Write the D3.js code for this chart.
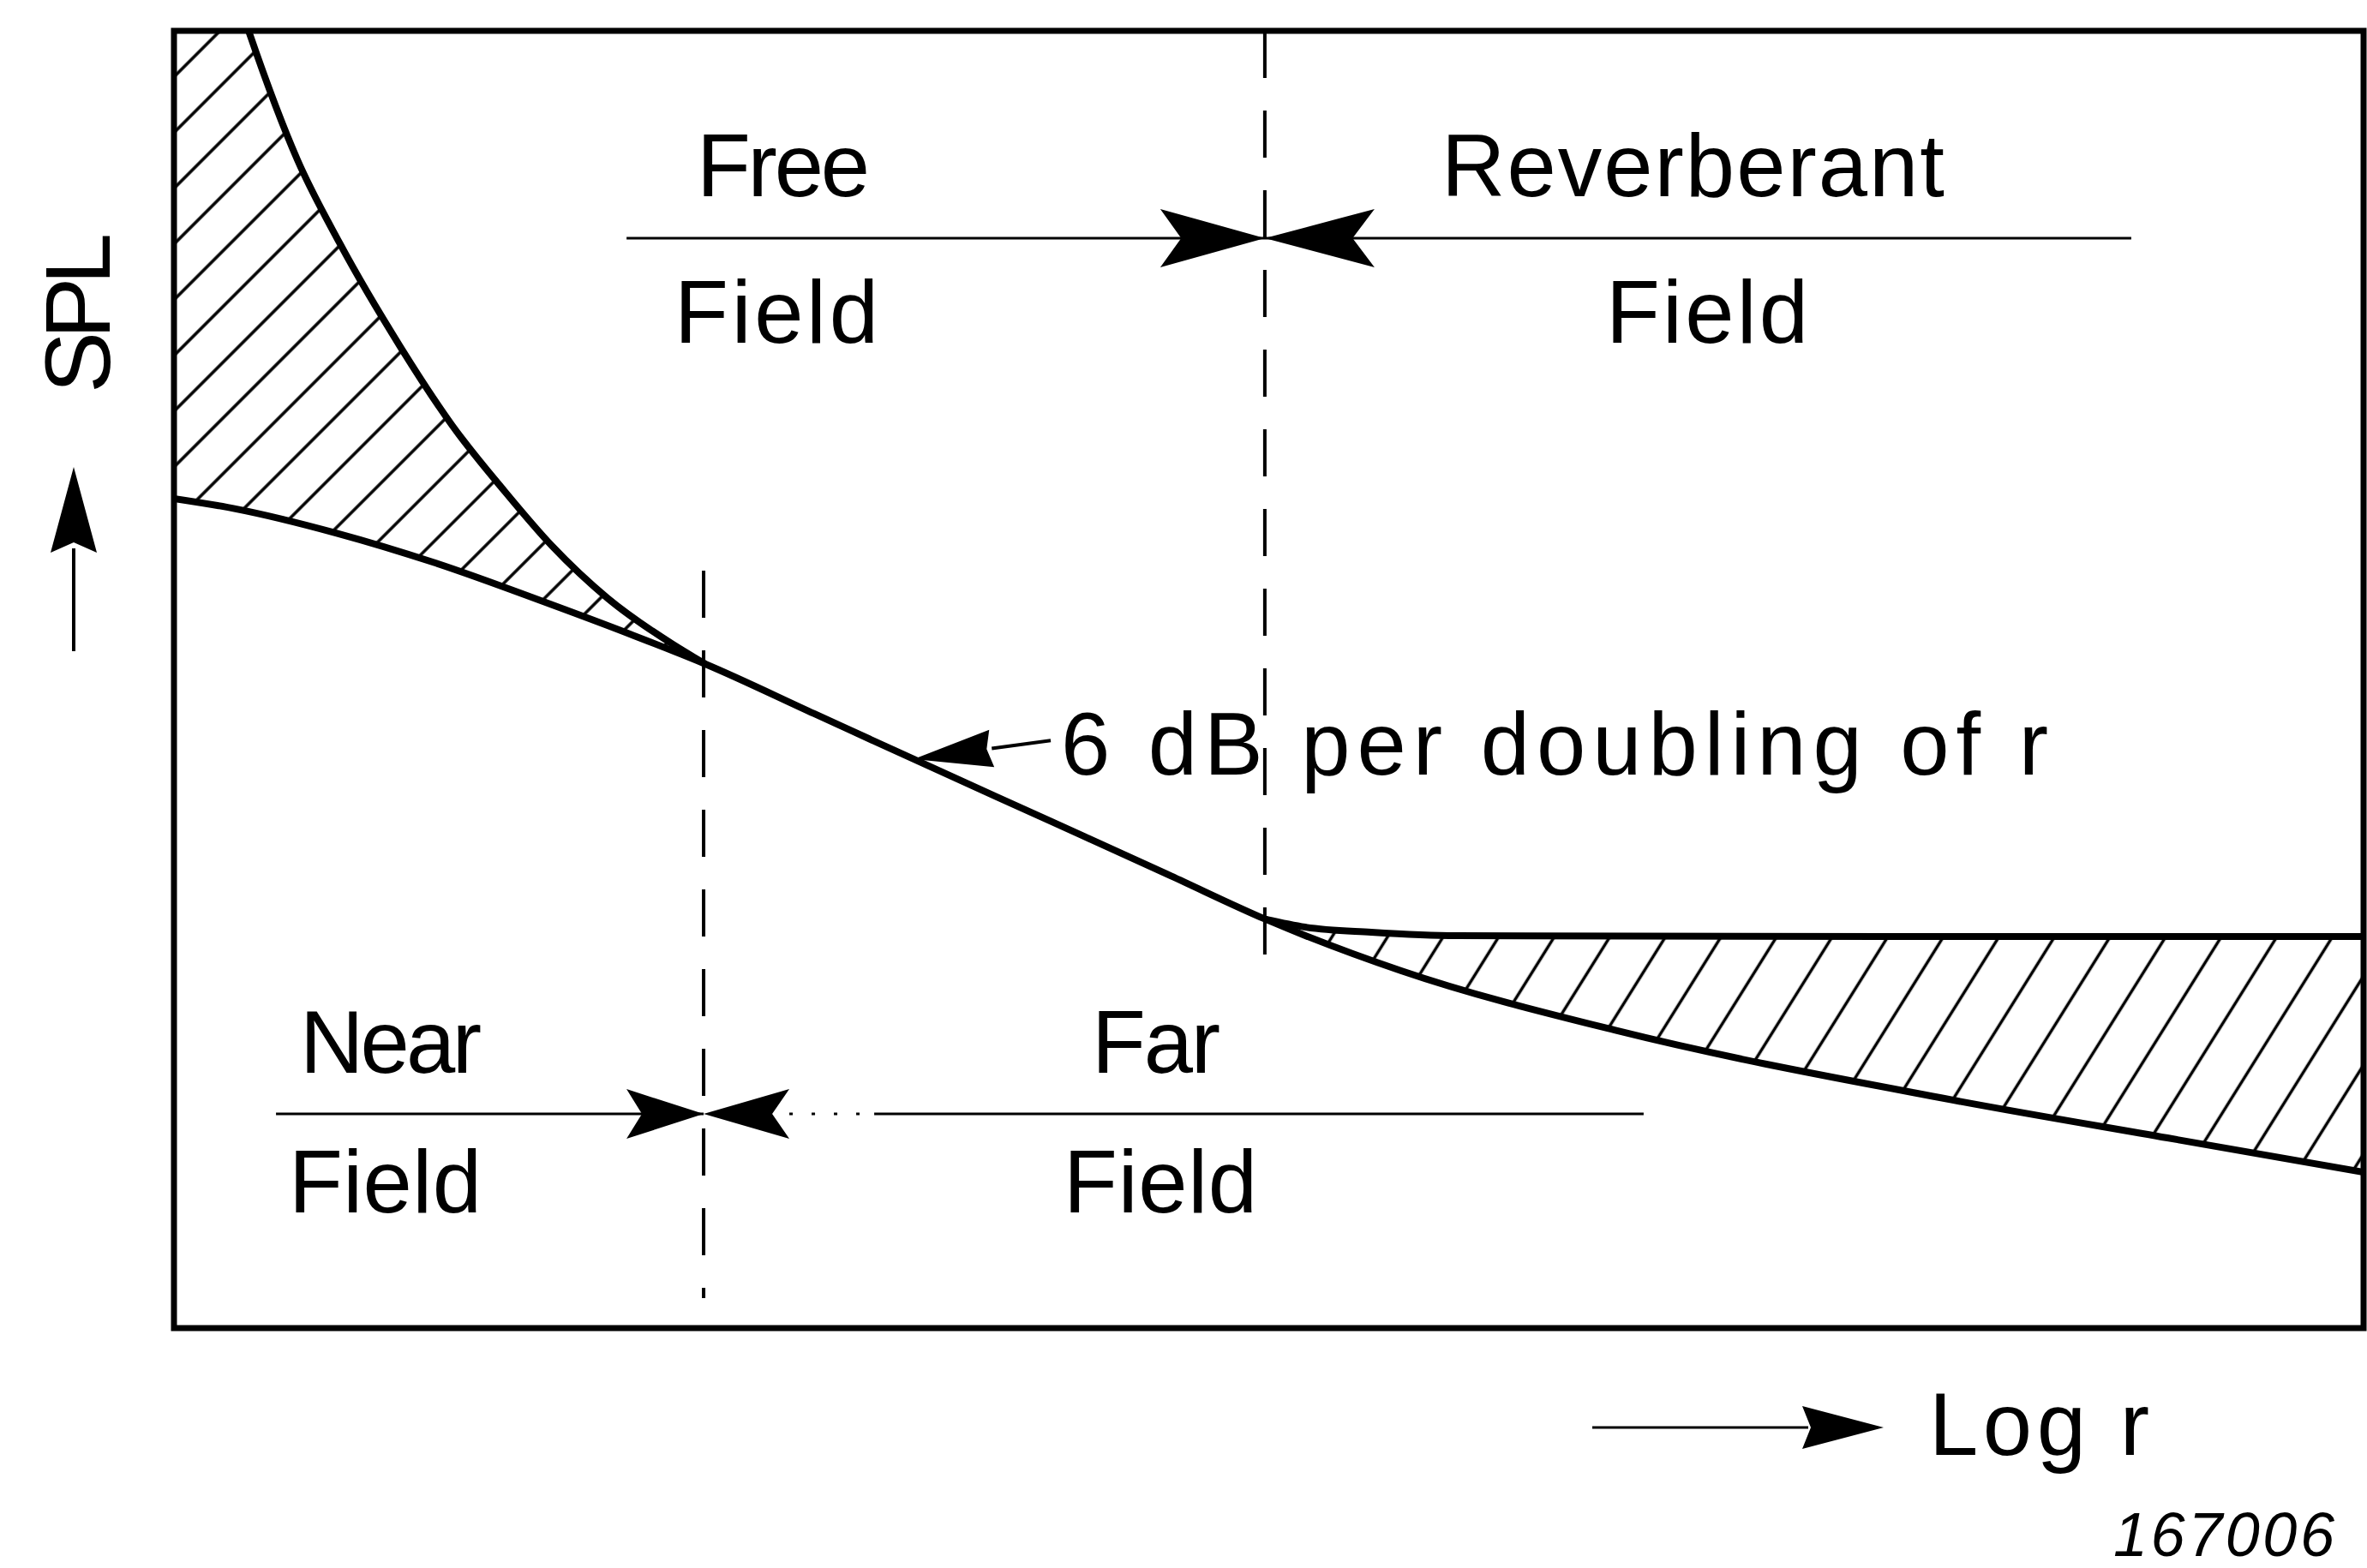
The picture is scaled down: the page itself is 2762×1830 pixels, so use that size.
<!DOCTYPE html>
<html>
<head>
<meta charset="utf-8">
<script src="https://cdn.jsdelivr.net/npm/d3@7"></script>
<style>
  html, body { margin: 0; padding: 0; background: #fff; }
  svg { display: block; }
  text { font-family: "Liberation Sans", Arial, sans-serif; fill: #000; }
</style>
</head>
<body>
<svg id="chart"></svg>
<script>
// values: x = log r (0..10 across the frame), y = SPL (0..100 up the frame)
const nearField = [
  {x: 0.325, y: 100.79}, {x: 0.346, y: 99.75}, {x: 0.565, y: 90.01}, {x: 0.755, y: 83.69},
  {x: 1.037, y: 75.56}, {x: 1.272, y: 69.55}, {x: 1.508, y: 64.55}, {x: 1.726, y: 60.30},
  {x: 1.980, y: 56.27}, {x: 2.278, y: 52.71}, {x: 2.427, y: 51.19}
];
const freeField = [
  {x: 0, y: 63.94}, {x: 0.286, y: 63.14}, {x: 0.740, y: 61.29}, {x: 1.194, y: 58.98},
  {x: 1.718, y: 55.81}, {x: 2.082, y: 53.50}, {x: 2.427, y: 51.19}, {x: 2.924, y: 47.36},
  {x: 3.378, y: 43.86}, {x: 4.008, y: 39.04}, {x: 4.552, y: 34.87}, {x: 4.986, y: 31.51},
  {x: 5.605, y: 27.54}, {x: 6.591, y: 22.92}, {x: 8.086, y: 17.70}, {x: 9.104, y: 14.66},
  {x: 10.0, y: 12.02}
];
const reverberant = [
  {x: 4.986, y: 31.51}, {x: 5.166, y: 30.91}, {x: 5.468, y: 30.52}, {x: 5.859, y: 30.25},
  {x: 7.8, y: 30.18}, {x: 10.0, y: 30.18}
];
const nearFarX = 2.427;      // where near field curve joins the 6 dB line
const freeRevX = 4.986;      // where reverberant field takes over

// dashed boundaries
const boundaries = [
  {x: 4.982, y1: 100, y2: 28.53},
  {x: 2.419, y1: 58.39, y2: 2.31}
];
// horizontal field arrows: line segments and bowtie meeting points
const fieldLines = [
  {y: 84.02, x1: 2.067, x2: 8.939},
  {y: 16.51, x1: 0.466, x2: 2.419},
  {y: 16.51, x1: 3.198, x2: 6.712}
];
const bowties = [
  {x: 4.982, y: 84.02, left: 122, right: 128, half: 34},
  {x: 2.419, y: 16.51, left: 90, right: 100, half: 29}
];
// "6 dB per doubling of r" pointer: tail and tip
const slopePointer = {x1: 4.004, y1: 45.3, x2: 3.378, y2: 43.86};

const labelTexts = ["Free", "Field", "Reverberant", "Field", "Near", "Field", "Far", "Field", "6 dB per doubling of r"];
const labelX1 = [2.387, 2.286, 5.789, 6.540, 0.575, 0.524, 4.192, 4.063, 4.051];
const labelX2 = [3.178, 3.217, 8.086, 7.464, 1.405, 1.405, 4.779, 4.947, 8.560];
const labelY  = [87.25, 75.96, 87.25, 75.96, 19.68, 8.92, 19.68, 8.92, 42.67];

const W = 2762, H = 1830;
const frame = {left: 203, top: 36, right: 2758, bottom: 1550};

const svg = d3.select("#chart").attr("width", W).attr("height", H);

const x = d3.scaleLinear().domain([0, 10]).range([frame.left, frame.right]);
const y = d3.scaleLinear().domain([0, 100]).range([frame.bottom, frame.top]);

const defs = svg.append("defs");
defs.append("clipPath").attr("id", "plotClip")
  .append("rect")
  .attr("x", frame.left).attr("y", frame.top)
  .attr("width", frame.right - frame.left).attr("height", frame.bottom - frame.top);

function hatch(id, angle, gap) {
  const p = defs.append("pattern")
    .attr("id", id)
    .attr("patternUnits", "userSpaceOnUse")
    .attr("width", gap).attr("height", gap)
    .attr("patternTransform", "rotate(" + angle + ")");
  p.append("line")
    .attr("x1", gap / 2).attr("x2", gap / 2)
    .attr("y1", -2).attr("y2", gap + 2)
    .attr("stroke", "#000").attr("stroke-width", 3.5);
}
hatch("hatchNear", 45, 46);
hatch("hatchRev", 32, 55);

const line = d3.line()
  .x(d => x(d.x))
  .y(d => y(d.y))
  .curve(d3.curveMonotoneX);

const plot = svg.append("g").attr("clip-path", "url(#plotClip)");

// hatched regions
const freeLeft = freeField.filter(d => d.x <= nearFarX).reverse();
const freeRight = freeField.filter(d => d.x >= freeRevX).reverse();

plot.append("path")
  .attr("d", "M" + x(0) + "," + y(101) + line(nearField).replace("M", "L") + line(freeLeft).replace("M", "L") + "Z")
  .attr("fill", "url(#hatchNear)");

plot.append("path")
  .attr("d", line(reverberant) + line(freeRight).replace("M", "L") + "Z")
  .attr("fill", "url(#hatchRev)");

// curves
[nearField, freeField, reverberant].forEach(c => {
  plot.append("path")
    .datum(c)
    .attr("d", line)
    .attr("fill", "none")
    .attr("stroke", "#000")
    .attr("stroke-width", 8)
    .attr("stroke-linejoin", "round");
});

// dashed region boundaries
svg.selectAll(".boundary")
  .data(boundaries)
  .enter().append("line")
    .attr("class", "boundary")
    .attr("x1", d => x(d.x)).attr("x2", d => x(d.x))
    .attr("y1", d => y(d.y1)).attr("y2", d => y(d.y2))
    .attr("stroke", "#000")
    .attr("stroke-width", 4)
    .attr("stroke-dasharray", "55,38");

// frame
svg.append("rect")
  .attr("x", frame.left).attr("y", frame.top)
  .attr("width", frame.right - frame.left).attr("height", frame.bottom - frame.top)
  .attr("fill", "none").attr("stroke", "#000").attr("stroke-width", 7);

// field arrows
svg.selectAll(".field-line")
  .data(fieldLines)
  .enter().append("line")
    .attr("class", "field-line")
    .attr("x1", d => x(d.x1)).attr("x2", d => x(d.x2))
    .attr("y1", d => y(d.y)).attr("y2", d => y(d.y))
    .attr("stroke", "#000").attr("stroke-width", 3);

// a few dots between the lower bowtie and the far field line
svg.append("line")
  .attr("x1", x(2.419) + 100).attr("x2", x(3.198))
  .attr("y1", y(16.51)).attr("y2", y(16.51))
  .attr("stroke", "#000").attr("stroke-width", 3)
  .attr("stroke-dasharray", "4,22");

function headPath(len, half, notch) {
  return "M0,0 L" + (-len) + "," + (-half) + " L" + (-len + notch) + ",0 L" + (-len) + "," + half + " Z";
}

bowties.forEach(b => {
  const cx = x(b.x), cy = y(b.y);
  svg.append("path")
    .attr("d", headPath(b.left, b.half, b.left * 0.2))
    .attr("transform", "translate(" + cx + "," + cy + ")")
    .attr("fill", "#000");
  svg.append("path")
    .attr("d", headPath(b.right, b.half, b.right * 0.2))
    .attr("transform", "translate(" + cx + "," + cy + ") rotate(180)")
    .attr("fill", "#000");
});

// slope pointer
{
  const tx = x(slopePointer.x1), ty = y(slopePointer.y1);
  const hx = x(slopePointer.x2), hy = y(slopePointer.y2);
  const ang = Math.atan2(hy - ty, hx - tx) * 180 / Math.PI;
  const len = 92;
  const d = Math.hypot(tx - hx, ty - hy);
  svg.append("line")
    .attr("x1", tx).attr("y1", ty)
    .attr("x2", hx + (tx - hx) * len / d)
    .attr("y2", hy + (ty - hy) * len / d)
    .attr("stroke", "#000").attr("stroke-width", 4);
  svg.append("path")
    .attr("d", headPath(len, 22, 6))
    .attr("transform", "translate(" + hx + "," + hy + ") rotate(" + ang + ")")
    .attr("fill", "#000");
}

// labels inside the chart
svg.selectAll(".label")
  .data(labelTexts)
  .enter().append("text")
    .attr("class", "label")
    .attr("x", (d, i) => x(labelX1[i]))
    .attr("y", (d, i) => y(labelY[i]))
    .attr("textLength", (d, i) => x(labelX2[i]) - x(labelX1[i]))
    .attr("lengthAdjust", "spacing")
    .style("font-size", "103px")
    .text(d => d);

// SPL axis label with upward arrow
svg.append("text")
  .attr("transform", "translate(128,459) rotate(-90)")
  .attr("textLength", 187)
  .attr("lengthAdjust", "spacing")
  .style("font-size", "108px")
  .text("SPL");
svg.append("line")
  .attr("x1", 86).attr("x2", 86).attr("y1", 760).attr("y2", 640)
  .attr("stroke", "#000").attr("stroke-width", 4);
svg.append("path")
  .attr("d", headPath(100, 27, 12))
  .attr("transform", "translate(86,545) rotate(-90)")
  .attr("fill", "#000");

// Log r axis label with rightward arrow
svg.append("line")
  .attr("x1", 1858).attr("x2", 2110).attr("y1", 1666).attr("y2", 1666)
  .attr("stroke", "#000").attr("stroke-width", 3);
svg.append("path")
  .attr("d", headPath(95, 25, 10))
  .attr("transform", "translate(2198,1666)")
  .attr("fill", "#000");
svg.append("text")
  .attr("x", 2251).attr("y", 1698)
  .attr("textLength", 257)
  .attr("lengthAdjust", "spacing")
  .style("font-size", "103px")
  .text("Log r");

// figure number
svg.append("text")
  .attr("x", 2466).attr("y", 1816)
  .attr("textLength", 258)
  .attr("lengthAdjust", "spacing")
  .style("font-size", "72px")
  .style("font-style", "italic")
  .text("167006");
</script>
</body>
</html>
